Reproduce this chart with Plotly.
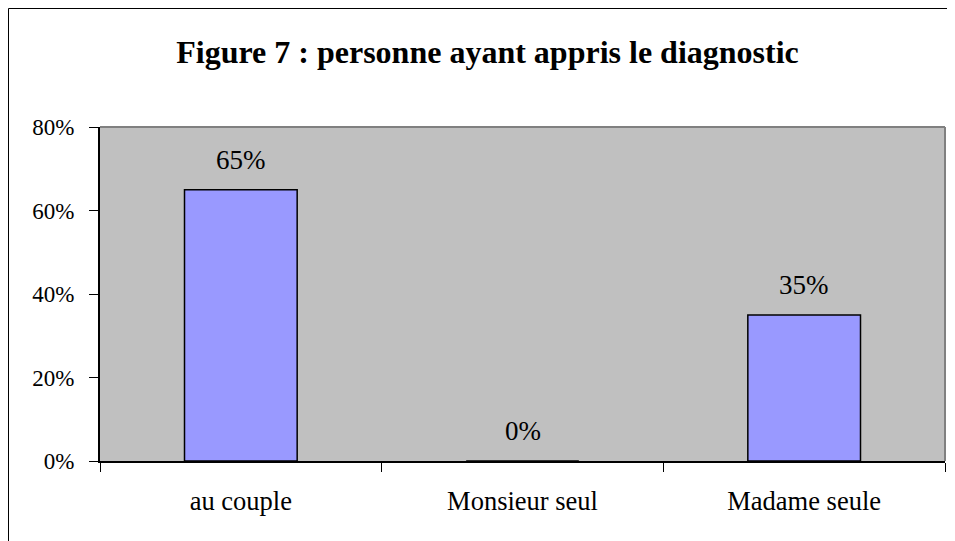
import plotly.graph_objects as go

categories = ["au couple", "Monsieur seul", "Madame seule"]
values = [0.65, 0.0, 0.35]
labels = ["65%", "0%", "35%"]
y_ticks = [0, 0.2, 0.4, 0.6, 0.8]
y_tick_labels = ["0%", "20%", "40%", "60%", "80%"]
title = "<b>Figure 7 : personne ayant appris le diagnostic</b>"

FONT = "Liberation Serif, Times New Roman, serif"
OFF = 8  # default page body margin
W, H = 955 - OFF, 541 - OFF
# plot area in page pixels: x 100..945, y 127..461
L, T = 100 - OFF, 127 - OFF
R = W - (945 - OFF)
B = H - (461 - OFF)
pw, ph = W - L - R, H - T - B

def px_x(p):
    return (p - OFF - L) / pw

def px_y(p):
    return (H - B - (p - OFF)) / ph

fig = go.Figure(go.Bar(
    x=categories, y=values, width=0.4,
    marker=dict(color="#9999FF", line=dict(color="black", width=1.5)),
    hoverinfo="skip",
))

for c, v, t in zip(categories, values, labels):
    fig.add_annotation(x=c, y=v, text=t, showarrow=False, yanchor="bottom",
                       yshift=13, font=dict(family=FONT, size=27, color="black"))

fig.update_layout(
    width=W, height=H,
    margin=dict(l=L, r=R, t=T, b=B),
    paper_bgcolor="white", plot_bgcolor="#C0C0C0",
    font=dict(family=FONT, size=23, color="black"),
    showlegend=False,
    title=dict(text=title, x=(487.5 - OFF) / W, xref="container", xanchor="center",
               y=1 - (52 - OFF) / H, yref="container", yanchor="middle",
               font=dict(family=FONT, size=32, color="black")),
    xaxis=dict(showgrid=False, showline=True, linecolor="black", linewidth=2,
               ticks="outside", tickson="boundaries", ticklen=9, tickcolor="black",
               tickwidth=1, ticklabelstandoff=15, zeroline=False,
               tickfont=dict(family=FONT, size=26.5, color="black"),
               range=[-0.5, 2.5], fixedrange=True),
    yaxis=dict(showgrid=False, showline=True, linecolor="black", linewidth=2,
               ticks="outside", ticklen=9, tickcolor="black", tickwidth=1,
               tickvals=y_ticks, ticktext=y_tick_labels, range=[0, 0.8],
               ticklabelstandoff=10, zeroline=False, fixedrange=True),
    shapes=[
        dict(type="line", xref="paper", yref="paper", x0=0, x1=1, y0=1, y1=1,
             line=dict(color="#808080", width=2)),
        dict(type="line", xref="paper", yref="paper", x0=1, x1=1, y0=0, y1=1,
             line=dict(color="#808080", width=2)),
        dict(type="rect", xref="paper", yref="paper",
             x0=px_x(OFF + 0.5), x1=px_x(980), y0=px_y(580), y1=px_y(OFF + 0.5),
             line=dict(color="black", width=1)),
    ],
)

fig.write_html("out.html")
